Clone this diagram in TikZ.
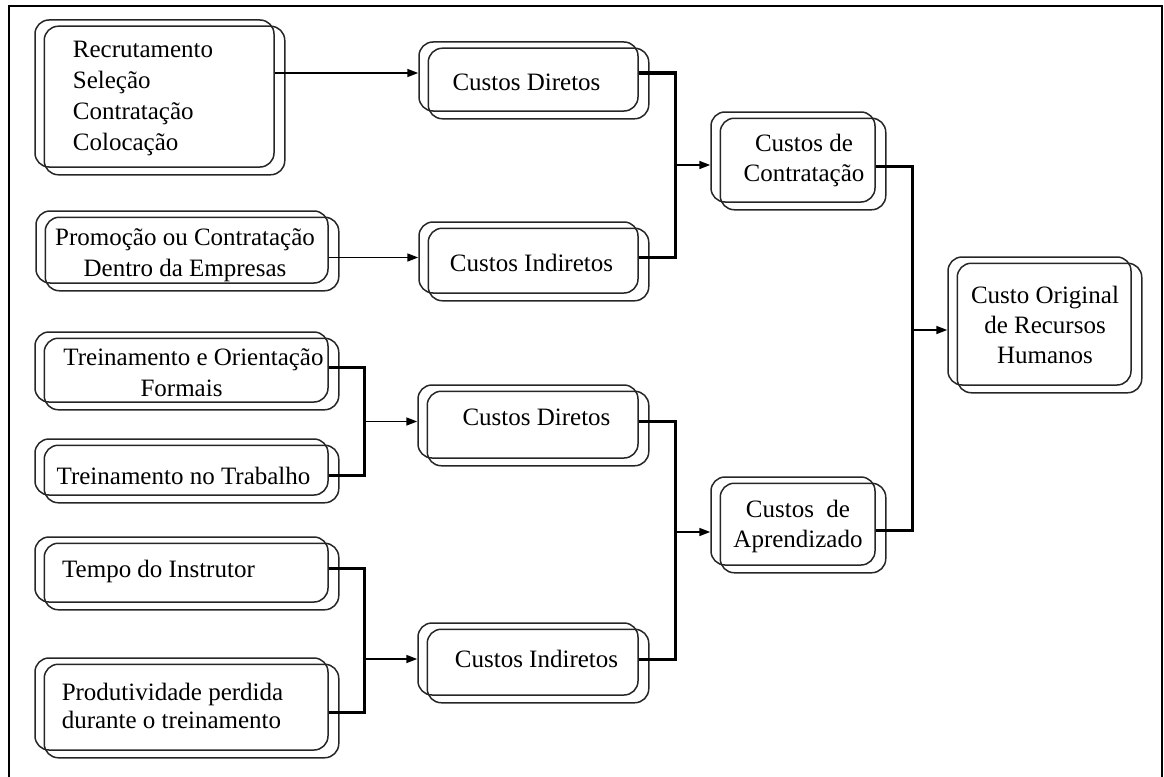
\documentclass[tikz,border=0pt]{standalone}
\usepackage{fontspec}
\setmainfont{Liberation Serif}
\usetikzlibrary{arrows.meta}

% box text: #1 horizontal offset, #2 vertical offset (up), #3 column spec, #4 lines
\newcommand\boxtxt[4]{%
  \raisebox{\dimexpr#2-8.5pt\relax}[0pt][0pt]{\makebox[0pt]{\hspace*{#1}\hspace*{#1}%
    \begin{tabular}{@{}#3@{}}#4\end{tabular}}}}

\tikzset{
  box/.style={draw=black!85, line width=1.5pt, rounded corners=14pt, inner sep=0pt,
    font=\fontsize{25}{31}\selectfont},
  backbox/.style={draw=black!85, line width=1.5pt, rounded corners=14pt},
  arr/.style={line width=1.6pt, -{Triangle[length=11pt,width=8pt]}},
  bar/.style={line width=3pt},
}

\begin{document}
\begin{tikzpicture}[x=1pt,y=-1pt]
\useasboundingbox (0,0) rectangle (1164,776);

% frame
\draw[line width=2pt] (9,800) -- (9,6) -- (1162,6) -- (1162,800);

% recruitment column
\node[box, minimum width=239pt, minimum height=147pt] (rec) at (154.5,93.5)
  {\boxtxt{-11.5pt}{-2.5pt}{l}{Recrutamento\\Seleção\\Contratação\\Colocação}};
\node[box, minimum width=292pt, minimum height=72pt] (prom) at (182,247)
  {\boxtxt{3pt}{-5.5pt}{c}{Promoção ou Contratação\\Dentro da Empresas}};

% training column
\node[box, minimum width=293pt, minimum height=70pt] (tr1) at (181.5,367)
  {\boxtxt{0pt}{-5.5pt}{c}{\hspace*{24pt}Treinamento e Orientação\\Formais}};
\node[box, minimum width=293pt, minimum height=56pt] (tr2) at (181.5,467)
  {\boxtxt{2pt}{-9pt}{c}{Treinamento no Trabalho}};
\node[box, minimum width=293pt, minimum height=65pt] (tempo) at (181.5,569.5)
  {\boxtxt{-23pt}{0pt}{l}{Tempo do Instrutor}};
\node[box, minimum width=293pt, minimum height=92pt] (prod) at (181.5,704)
  {\boxtxt{-9pt}{-2.5pt}{l}{Produtividade perdida\\[-3pt]durante o treinamento}};

% direct / indirect costs
\node[box, minimum width=219pt, minimum height=69pt] (cd1) at (528.5,76.5)
  {\boxtxt{-2pt}{-5.5pt}{c}{Custos Diretos}};
\node[box, minimum width=219pt, minimum height=71pt] (ci1) at (528.5,257.5)
  {\boxtxt{3pt}{-6pt}{c}{Custos Indiretos}};
\node[box, minimum width=220pt, minimum height=73pt] (cd2) at (528,421.5)
  {\boxtxt{8.5pt}{4.5pt}{c}{Custos Diretos}};
\node[box, minimum width=220pt, minimum height=72pt] (ci2) at (528,659)
  {\boxtxt{8.5pt}{0pt}{c}{Custos Indiretos}};

% cost groups
\node[box, minimum width=164pt, minimum height=90pt] (cc) at (793,157)
  {\boxtxt{11pt}{-1pt}{c}{Custos de\\[-1pt]Contratação}};
\node[box, minimum width=164pt, minimum height=88pt] (ca) at (793,521)
  {\boxtxt{5pt}{-3pt}{c}{Custos\ \ de\\[-1pt]Aprendizado}};
\node[box, minimum width=183pt, minimum height=128pt] (co) at (1039.5,321)
  {\boxtxt{5.5pt}{-4pt}{c}{Custo Original\\[-1pt]de Recursos\\[-1pt]Humanos}};

% offset outline behind every box
\foreach \n in {rec,prom,tr1,tr2,tempo,prod,cd1,ci1,cd2,ci2,cc,ca,co}
  \draw[backbox] ([shift={(10pt,-7pt)}]\n.south west) rectangle ([shift={(10pt,-7pt)}]\n.north east);

% connectors
\coordinate (cd1in) at ([yshift=3.5pt]cd1.west);
\draw[arr] (rec.east |- cd1in) -- (cd1in);
\draw[arr] (prom.east |- ci1.west) -- (ci1.west);

\draw[bar] ([yshift=3.5pt]cd1.east) -- ++(37,0) |- (ci1.east);
\coordinate (b1) at (675,165);
\draw[arr] (b1) -- (b1 -| cc.west);

\draw[bar] (tr1.east) -- ++(36,0) |- ([yshift=-8pt]tr2.east);
\coordinate (b2) at (364,421.5);
\draw[arr] (b2) -- (b2 -| cd2.west);

\draw[bar] ([yshift=1.5pt]tempo.east) -- ++(36,0) |- ([yshift=-8pt]prod.east);
\coordinate (b3) at (364,659);
\draw[arr] (b3) -- (b3 -| ci2.west);

\draw[bar] (cd2.east) -- ++(37,0) |- (ci2.east);
\coordinate (b4) at (675,532);
\draw[arr] (b4) -- (b4 -| ca.west);

\draw[bar] ([yshift=-9pt]cc.east) -- ++(37,0) |- ([yshift=-9pt]ca.east);
\coordinate (b5) at (912,330);
\draw[arr] (b5) -- (b5 -| co.west);
\end{tikzpicture}
\end{document}
